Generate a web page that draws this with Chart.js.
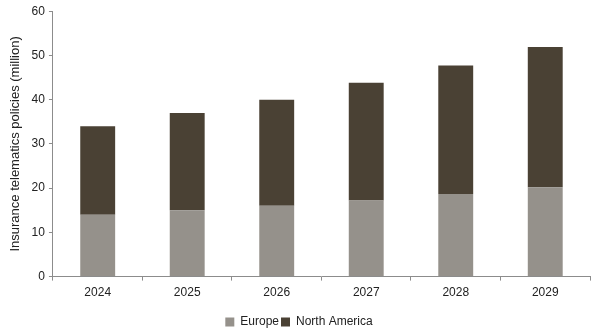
<!DOCTYPE html>
<html>
<head>
<meta charset="utf-8">
<script src="https://cdn.jsdelivr.net/npm/chart.js@4/dist/chart.umd.min.js"></script>
<style>
  html, body { margin: 0; padding: 0; background: #fff; }
  .wrap { width: 600px; height: 332px; }
</style>
</head>
<body>
<div class="wrap"><canvas id="chart"></canvas></div>
<script>
const years = ['2024', '2025', '2026', '2027', '2028', '2029']
const europe = [14, 15, 16, 17.2, 18.7, 20.2]
const northAmerica = [20, 22, 24, 26.6, 29, 31.7]
const yTicks = [0, 10, 20, 30, 40, 50, 60]

const axisGray = '#8c8c8c'
const font = { family: 'Liberation Sans, Arial, sans-serif', size: 12 }

const ctx = document.getElementById('chart').getContext('2d')
new Chart(ctx, {
  type: 'bar',
  data: {
    labels: years,
    datasets: [
      {
        label: 'Europe',
        data: europe,
        backgroundColor: '#95918b',
        borderWidth: 0,
        barPercentage: 0.78,
        categoryPercentage: 0.5,
      },
      {
        label: 'North America',
        data: northAmerica,
        backgroundColor: '#4a4134',
        borderWidth: 0,
        barPercentage: 0.78,
        categoryPercentage: 0.5,
      },
    ],
  },
  options: {
    responsive: true,
    maintainAspectRatio: false,
    animation: false,
    layout: { padding: { top: 0, right: 10, left: 8, bottom: -6 } },
    plugins: {
      tooltip: { enabled: false },
      legend: {
        position: 'bottom',
        labels: {
          boxWidth: 9,
          boxHeight: 9,
          padding: 2,
          color: '#222',
          font: font,
        },
      },
    },
    scales: {
      x: {
        stacked: true,
        afterFit: (axis) => {
          // extra room between year labels and legend
          axis.height += 9
        },
        border: { color: axisGray, width: 1 },
        grid: {
          display: true,
          drawOnChartArea: false,
          tickLength: 4,
          color: axisGray,
          offset: true,
        },
        ticks: { color: '#222', font: font, padding: 5 },
      },
      y: {
        stacked: true,
        min: 0,
        max: 60,
        afterBuildTicks: (axis) => {
          axis.ticks = yTicks.map((v) => ({ value: v }))
        },
        border: { color: axisGray, width: 1 },
        grid: {
          display: true,
          drawOnChartArea: false,
          tickLength: 4,
          color: axisGray,
        },
        ticks: { color: '#222', font: font, padding: 4 },
        title: {
          display: true,
          text: 'Insurance telematics policies (million)',
          color: '#222',
          font: { family: font.family, size: 13 },
          padding: { top: 0, bottom: 4 },
        },
      },
    },
  },
})
</script>
</body>
</html>
